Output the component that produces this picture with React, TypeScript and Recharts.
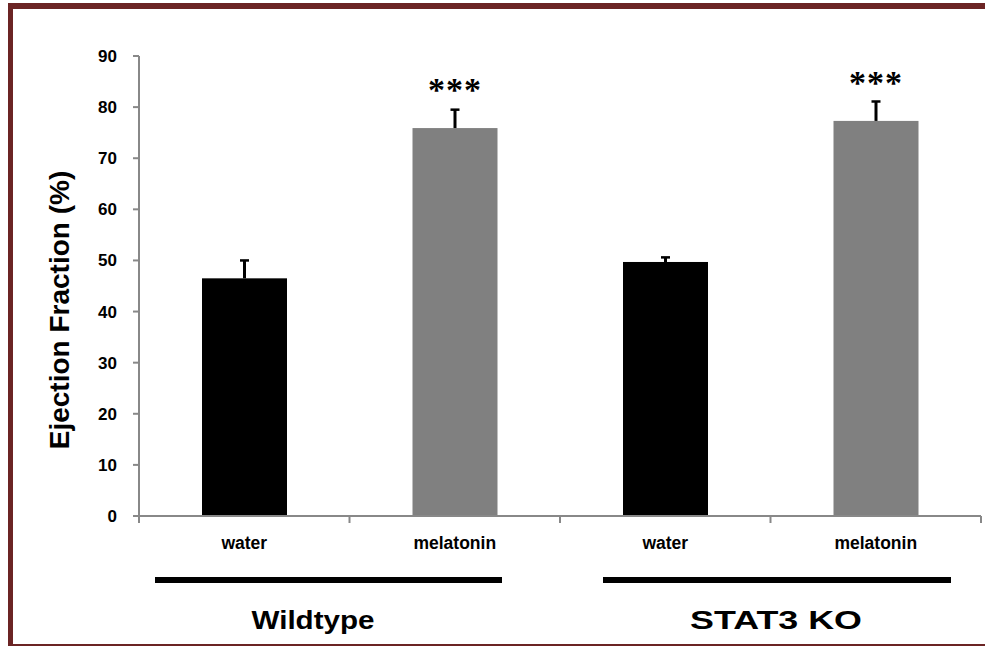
import React from 'react';
import { BarChart, Bar, XAxis, YAxis, LabelList, Cell } from 'recharts';

const categories = ['water', 'melatonin', 'water', 'melatonin'];
const values = [46.5, 75.9, 49.7, 77.3];
const errors = [3.5, 3.6, 0.9, 3.8];
const significance = ['', '***', '', '***'];
const groupLabels = ['Wildtype', 'STAT3 KO'];
const yTicks = [0, 10, 20, 30, 40, 50, 60, 70, 80, 90];

const barColors = ['#000000', '#808080', '#000000', '#808080'];
const FONT = 'Arial, "Liberation Sans", sans-serif';
const AXIS = '#888888';
// group annotation layout (pixel offsets from group's left band edge)
const groupStyle = [
  { lineStart: 16, lineEnd: 363, labelX: 174, labelLen: 123 },
  { lineStart: 43, lineEnd: 391, labelX: 216, labelLen: 172 },
];

const data = categories.map((c, i) => ({
  name: c,
  value: values[i],
  err: errors[i],
  sig: significance[i],
}));

// bar with upward-only error bar; error length scaled by the bar's own pixel/value ratio
const BarWithError = (p: any) => {
  const { x, y, width, height, fill, payload } = p;
  const perUnit = payload.value ? height / payload.value : 0;
  const cx = x + width / 2;
  const top = y - payload.err * perUnit;
  return (
    <g>
      <rect x={x} y={y} width={width} height={height} fill={fill} />
      <line x1={cx} y1={y} x2={cx} y2={top} stroke="#000" strokeWidth={3} />
      <line x1={cx - 4.5} y1={top} x2={cx + 4.5} y2={top} stroke="#000" strokeWidth={2.5} />
    </g>
  );
};

const renderTick = (props: any) => {
  const { x, y, payload, index, width, visibleTicksCount } = props;
  const half = width && visibleTicksCount ? width / visibleTicksCount / 2 : 105;
  const left = x - half;
  const isLast = index === visibleTicksCount - 1;
  const g = Math.floor(index / 2);
  const gs = groupStyle[g];
  return (
    <g>
      <line x1={left} y1={y} x2={left} y2={y + 7} stroke={AXIS} strokeWidth={2} />
      {isLast && <line x1={x + half} y1={y} x2={x + half} y2={y + 7} stroke={AXIS} strokeWidth={2} />}
      <text x={x} y={y + 33} textAnchor="middle" fontFamily={FONT} fontWeight="bold" fontSize={17.5} fill="#000">
        {payload.value}
      </text>
      {index % 2 === 0 && (
        <g>
          <line x1={left + gs.lineStart} y1={y + 64} x2={left + gs.lineEnd} y2={y + 64} stroke="#000" strokeWidth={6} />
          <text
            x={left + gs.labelX}
            y={y + 113}
            textAnchor="middle"
            fontFamily={FONT}
            fontWeight="bold"
            fontSize={26}
            fill="#000"
            textLength={gs.labelLen}
            lengthAdjust="spacingAndGlyphs"
          >
            {groupLabels[g]}
          </text>
        </g>
      )}
    </g>
  );
};

export default function App() {
  return (
    <div style={{ position: 'absolute', left: 0, top: 0, width: 985, height: 646, background: '#fff', overflow: 'hidden' }}>
      <div
        style={{
          position: 'absolute',
          left: 8,
          top: 3,
          width: 1200,
          height: 643,
          boxSizing: 'border-box',
          borderLeft: '5px solid #6b2424',
          borderTop: '6px solid #6b2424',
          borderBottom: '2px solid #6b2424',
        }}
      />
      <div style={{ position: 'absolute', left: 0, top: 0 }}>
        <BarChart width={985} height={646} data={data} margin={{ top: 56, right: 4, bottom: 0, left: 0 }}>
          <YAxis
            type="number"
            domain={[0, 90]}
            ticks={yTicks}
            width={139}
            axisLine={{ stroke: AXIS, strokeWidth: 2 }}
            tickLine={{ stroke: AXIS, strokeWidth: 2 }}
            tickSize={6}
            tickMargin={16}
            tick={{ fontSize: 17, fontWeight: 'bold', fill: '#000', fontFamily: FONT }}
            label={{
              content: () => (
                <text
                  transform="translate(69,310) rotate(-90)"
                  textAnchor="middle"
                  fontFamily={FONT}
                  fontWeight="bold"
                  fontSize={28}
                  fill="#000"
                >
                  Ejection Fraction (%)
                </text>
              ),
            }}
          />
          <XAxis
            dataKey="name"
            height={130}
            axisLine={{ stroke: AXIS, strokeWidth: 2 }}
            tickLine={false}
            tickSize={0}
            tickMargin={0}
            interval={0}
            tick={renderTick}
          />
          <Bar dataKey="value" barSize={85} isAnimationActive={false} shape={BarWithError}>
            {data.map((d, i) => (
              <Cell key={i} fill={barColors[i]} />
            ))}
            <LabelList
              dataKey="sig"
              position="top"
              offset={27}
              style={{
                fontFamily: '"Liberation Serif", "Times New Roman", serif',
                fontSize: 34,
                fontWeight: 'bold',
                fill: '#000',
                letterSpacing: 1,
              }}
            />
          </Bar>
        </BarChart>
      </div>
    </div>
  );
}
